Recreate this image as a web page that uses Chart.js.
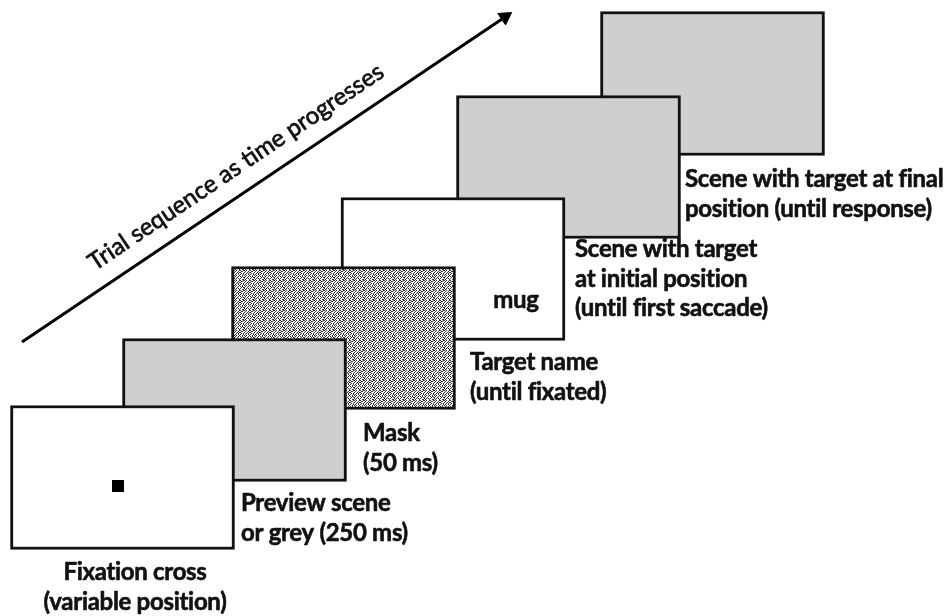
<!DOCTYPE html>
<html>
<head>
<meta charset="utf-8">
<script src="https://cdn.jsdelivr.net/npm/chart.js@4.4.1/dist/chart.umd.min.js"></script>
<style>
  html, body { margin: 0; padding: 0; background: #fff; }
  #wrap { width: 951px; height: 616px; }
</style>
</head>
<body>
<div id="wrap"><canvas id="myChart"></canvas></div>
<script>
// trial screens in the order they are shown
var screens = ['Fixation cross', 'Preview scene', 'Mask', 'Target name', 'Scene initial', 'Scene final'];
// screen centre (x) and vertical span on the diagram grid (y grows downwards)
var screenX = [122.5, 234.5, 343.5, 453, 568.5, 712.5];
var screenTop = [407, 340, 268, 199, 97, 13];
var screenBottom = [548, 480, 408, 339, 237, 154];
var screenKind = ['blank', 'grey', 'mask', 'blank', 'grey', 'grey'];

// captions under each screen
var captionLines = [
  ['Fixation cross', '(variable position)'],
  ['Preview scene', 'or grey (250 ms)'],
  ['Mask', '(50 ms)'],
  ['Target name', '(until fixated)'],
  ['Scene with target', 'at initial position', '(until first saccade)'],
  ['Scene with target at final', 'position (until response)']
];
var captionX = [135, 241, 363, 470, 575, 685];
var captionY = [580, 511, 441, 370, 257, 187];

// fixation marker and target word
var fixationPoint = [118, 486];
var targetWord = 'mug';
var targetWordAt = [516, 308];

// time arrow
var arrowFrom = [22, 342];
var arrowTo = [505, 17];
var arrowText = 'Trial sequence as time progresses';
var arrowTextAt = [236, 167];

var FONT = 'Lato, "Open Sans", sans-serif';

function maskPattern() {
  var rows = [
    '1001101001',
    '0110010010',
    '1000100101',
    '0101001010',
    '1001010010',
    '0010101001',
    '1010010010',
    '0101100100',
    '1000101010',
    '0011010001'
  ];
  var c = document.createElement('canvas');
  c.width = 10; c.height = 10;
  var g = c.getContext('2d');
  g.fillStyle = '#fff';
  g.fillRect(0, 0, 10, 10);
  g.fillStyle = '#333';
  rows.forEach(function(r, j) {
    for (var i = 0; i < r.length; i++) if (r[i] === '1') g.fillRect(i, j, 1, 1);
  });
  return g.createPattern(c, 'repeat');
}

var ctx = document.getElementById('myChart').getContext('2d');
var fills = { blank: '#ffffff', grey: '#d0cecf', mask: maskPattern() };

// later screens sit behind earlier ones, so draw them first
var order = screens.map(function(s, i) { return i; }).reverse();

function heavyText(c, t, x, y) {
  c.strokeText(t, x, y);
  c.fillText(t, x, y);
}

var textPlugin = {
  id: 'diagramText',
  afterDatasetsDraw: function(chart) {
    var c = chart.ctx, sx = chart.scales.x, sy = chart.scales.y;
    c.save();
    c.fillStyle = '#111';
    c.strokeStyle = '#111';
    c.lineWidth = 0.6;
    c.lineJoin = 'round';
    c.textBaseline = 'alphabetic';
    c.letterSpacing = '-0.3px';
    c.font = 'bold 24px ' + FONT;
    captionLines.forEach(function(lines, i) {
      c.textAlign = i === 0 ? 'center' : 'left';
      lines.forEach(function(t, k) {
        heavyText(c, t, sx.getPixelForValue(captionX[i]), sy.getPixelForValue(captionY[i] + k * 29.5));
      });
    });
    c.textAlign = 'center';
    heavyText(c, targetWord, sx.getPixelForValue(targetWordAt[0]), sy.getPixelForValue(targetWordAt[1]));

    var x0 = sx.getPixelForValue(arrowFrom[0]), y0 = sy.getPixelForValue(arrowFrom[1]);
    var x1 = sx.getPixelForValue(arrowTo[0]), y1 = sy.getPixelForValue(arrowTo[1]);
    c.translate(sx.getPixelForValue(arrowTextAt[0]), sy.getPixelForValue(arrowTextAt[1]));
    c.rotate(Math.atan2(y1 - y0, x1 - x0));
    c.letterSpacing = '0px';
    c.font = '24px ' + FONT;
    c.lineWidth = 0.7;
    c.textBaseline = 'middle';
    heavyText(c, arrowText, 0, 0);
    c.restore();
  }
};

var chart = new Chart(ctx, {
  type: 'bar',
  data: {
    datasets: [{
      type: 'scatter',
      data: [{ x: fixationPoint[0], y: fixationPoint[1] }],
      pointStyle: 'rect',
      pointRadius: 8.5,
      backgroundColor: '#000',
      borderWidth: 0
    }, {
      type: 'scatter',
      data: [{ x: arrowFrom[0], y: arrowFrom[1] }, { x: arrowTo[0], y: arrowTo[1] }],
      showLine: true,
      borderColor: '#000',
      borderWidth: 3,
      pointStyle: 'triangle',
      pointRadius: [0, 8],
      rotation: 56,
      pointBackgroundColor: '#000',
      pointBorderColor: '#000',
      pointBorderWidth: 1
    }, {
      type: 'bar',
      data: order.map(function(i) {
        return { x: screenX[i], y: [screenTop[i] - 1.5, screenBottom[i] + 1.5] };
      }),
      backgroundColor: order.map(function(i) { return fills[screenKind[i]]; }),
      borderColor: '#111',
      borderWidth: 3,
      borderSkipped: false,
      barThickness: 224
    }]
  },
  options: {
    responsive: true,
    maintainAspectRatio: false,
    animation: false,
    events: [],
    layout: { padding: 0, autoPadding: false },
    plugins: { legend: { display: false }, tooltip: { enabled: false } },
    scales: {
      x: { type: 'linear', min: 0, max: 951, offset: false, display: false },
      y: { type: 'linear', min: 0, max: 616, reverse: true, display: false }
    }
  },
  plugins: [textPlugin]
});
</script>
</body>
</html>
